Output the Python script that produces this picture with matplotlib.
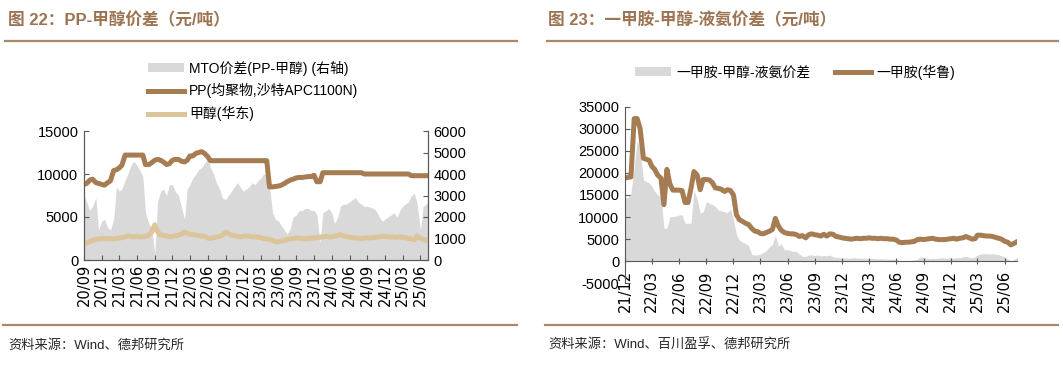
import numpy as np
import pandas as pd
import matplotlib
matplotlib.use('Agg')
import matplotlib.pyplot as plt
import matplotlib.dates as mdates
from matplotlib.lines import Line2D
from matplotlib.patches import Patch

plt.rcParams['font.family'] = ['Liberation Sans', 'Noto Sans CJK SC']
plt.rcParams['axes.unicode_minus'] = False

### data: left chart (semi-monthly, 1st and 15th, 2020/09 .. 2025/07)
left_dates = pd.date_range('2020-09-01', '2025-07-15', freq='SMS')

pp_price = [
    8800, 8900, 9300, 9400, 9000, 8900, 8800, 8700,
    9000, 9200, 10400, 10500, 10700, 11000, 12200, 12200, 12200, 12200, 12200, 12200,
    12200, 11100, 11100, 11300, 11600, 11700, 11600, 11400, 11100, 11200, 11600, 11700,
    11700, 11500, 11400, 11600, 12100, 12100, 12400, 12500, 12600, 12400, 12000, 11550,
    11550, 11550, 11550, 11550, 11550, 11550, 11550, 11550, 11550, 11550, 11550, 11550,
    11550, 11550, 11550, 11550, 11550, 11550, 11550, 8500, 8500, 8550, 8600, 8700,
    8900, 9100, 9300, 9400, 9550, 9600, 9600, 9650, 9700, 9700, 9850, 9100,
    9100, 10150, 10150, 10150, 10150, 10150, 10150, 10150, 10150, 10150, 10150, 10150,
    10150, 10150, 10150, 10000, 10000, 10000, 10000, 10000, 10000, 10000, 10000, 10000,
    10000, 10000, 10000, 10000, 10000, 10000, 10000, 9800, 9800, 9800, 9800, 9800,
    9800, 9800,
]

methanol_price = [
    1900, 2000, 2150, 2300, 2400, 2450, 2500, 2450,
    2500, 2500, 2450, 2500, 2550, 2600, 2700, 2800, 2750, 2700, 2750, 2700,
    2700, 2750, 2900, 3200, 4100, 3300, 2900, 2850, 2800, 2700, 2750, 2800,
    2900, 3000, 3250, 3100, 3000, 2950, 2900, 2850, 2800, 2750, 2550, 2500,
    2600, 2650, 2750, 2900, 3250, 3100, 2900, 2850, 2750, 2700, 2750, 2800,
    2750, 2700, 2700, 2650, 2600, 2500, 2450, 2400, 2300, 2150, 2100, 2200,
    2300, 2400, 2450, 2500, 2550, 2550, 2500, 2500, 2500, 2550, 2550, 2600,
    2650, 2700, 2750, 2700, 2700, 2750, 2850, 2950, 2800, 2700, 2650, 2600,
    2550, 2550, 2500, 2550, 2600, 2550, 2600, 2650, 2700, 2750, 2750, 2700,
    2700, 2650, 2650, 2700, 2650, 2600, 2500, 2450, 2350, 2800, 2500, 2400,
    2300, 2250,
]

mto_spread = [
    3000, 2700, 2300, 2500, 2900, 1400, 1800, 1900,
    1500, 1400, 1900, 3400, 3200, 3300, 3700, 4000, 4400, 4600, 4400, 4200,
    3900, 2200, 1700, 1500, 300, 2700, 3200, 3300, 3000, 3500, 3500, 3200,
    3000, 2500, 1900, 3300, 3500, 3800, 4000, 4200, 4300, 4500, 4700, 4300,
    4000, 3600, 3300, 2900, 2800, 3000, 3200, 3400, 3600, 3400, 3200, 3300,
    3400, 3600, 3500, 3700, 3800, 4000, 4000, 3400, 2200, 1900, 1800, 1600,
    1400, 1200, 1500, 2000, 2100, 2300, 2300, 2400, 2400, 2300, 2300, 2100,
    800, 2200, 2300, 2400, 2200, 1700, 2000, 2500, 2600, 2600, 2700, 2800,
    2900, 2700, 2600, 2500, 2500, 2450, 2400, 2300, 2000, 1800, 1900, 2000,
    2100, 2200, 2000, 2300, 2500, 2600, 2700, 3000, 3100, 2600, 1400, 2500,
    2600, 2800,
]

left_ticks = pd.date_range('2020-09-01', '2025-06-01', freq='3MS')

### data: right chart (1st, 11th, 21st of each month, 2021/12 .. 2025/07)
right_months = pd.date_range('2021-12-01', '2025-07-01', freq='MS')
right_dates = [m + pd.Timedelta(days=d) for m in right_months for d in (0, 10, 20)]

mma_price = [
    18800, 19000, 19100,
    32300, 32300, 30000, 23300, 23100, 22800, 21500, 20800, 19500,
    18800, 12800, 20800, 17500, 16100, 16100, 16100, 16000, 13300,
    13300, 16500, 20300, 19500, 16200, 18500, 18500, 18400, 17800,
    16600, 16500, 16300, 15800, 16200, 16000, 15000, 10500, 9400,
    9000, 8600, 8300, 7400, 6800, 6700, 6300, 6200, 6500,
    6800, 7200, 9700, 8000, 7000, 6500, 6300, 6200, 6200,
    6000, 5600, 5800, 5300, 6000, 6200, 6000, 5900, 5700,
    6100, 5700, 6200, 6100, 5600, 5500, 5300, 5200, 5100,
    5000, 5100, 5200, 5100, 5200, 5200, 5300, 5200, 5200,
    5100, 5200, 5100, 5100, 5000, 5000, 4800, 4300, 4200,
    4300, 4300, 4400, 4500, 4900, 5000, 4900, 5000, 5100,
    5200, 5000, 4900, 4900, 4900, 5000, 5100, 5200, 5000,
    5200, 5300, 5600, 5300, 5000, 5100, 5900, 5900, 5800,
    5700, 5700, 5600, 5400, 5200, 5000, 4500, 4300, 3700,
    4000, 4400, 4600,
]

mma_spread = [
    14300, 14500, 15400,
    21400, 27400, 25200, 18400, 18000, 17700, 17000, 15800, 15000,
    14600, 7500, 7500, 10100, 10100, 10200, 10500, 10500, 8600,
    8600, 8600, 16100, 14000, 10900, 11200, 13500, 13100, 12800,
    12400, 11600, 11400, 11200, 11000, 11800, 9400, 6000, 4800,
    4300, 4000, 3500, 1500, 1400, 1500, 1600, 2000, 2400,
    3300, 3800, 5900, 3400, 4000, 2600, 2600, 2400, 2200,
    2200, 1600, 1100, 1100, 1400, 1400, 1300, 1400, 1200,
    1300, 1200, 1400, 1000, 900, 800, 700, 750, 700,
    700, 800, 700, 700, 650, 700, 600, 700, 600,
    500, 600, 500, 500, 400, 500, 400, 200, 100,
    100, 100, 200, 300, 500, 1000, 800, 700, 600,
    700, 600, 700, 800, 700, 700, 800, 700, 800,
    800, 1000, 1100, 900, 800, 1000, 1400, 1600, 1700,
    1700, 1600, 1700, 1600, 1500, 1200, 1000, 500, 100,
    300, 800, 1000,
]

right_ticks = pd.date_range('2021-12-01', '2025-06-01', freq='3MS')

### style
W, H = 1063, 366
BROWN = '#a67c52'
TAN = '#dcc59a'
GREY = '#d9d9d9'
TITLE = '#9c7452'
RULE = '#a8896a'
SPINE = '#595959'


def fx(px):
    return px / W


def fy(py):
    return 1 - py / H


def style_xaxis(axis, ticks, start, end):
    """ Quarterly date ticks, labels rotated as in the reference """
    axis.set_xlim(pd.Timestamp(start), pd.Timestamp(end))
    axis.set_xticks(ticks)
    axis.xaxis.set_major_formatter(mdates.DateFormatter('%y/%m'))
    axis.tick_params(axis='x', labelrotation=90, labelsize=10.5)
    for lab in axis.get_xticklabels():
        lab.set_family('DejaVu Sans')


fig = plt.figure(figsize=(W / 100, H / 100), dpi=100)

### left chart
ax = fig.add_axes([fx(84), fy(260), fx(428) - fx(84), fy(131) - fy(260)])
ax2 = ax.twinx()
ax2.fill_between(left_dates, 0, mto_spread, color=GREY, lw=0)
ax.plot(left_dates, pp_price, color=BROWN, lw=3.6)
ax.plot(left_dates, methanol_price, color=TAN, lw=3.6)
ax.set_zorder(ax2.get_zorder() + 1)
ax.patch.set_visible(False)

ax.set_ylim(0, 15000)
ax.set_yticks([0, 5000, 10000, 15000])
ax2.set_ylim(0, 6000)
ax2.set_yticks([0, 1000, 2000, 3000, 4000, 5000, 6000])

for a in (ax, ax2):
    a.spines['top'].set_visible(False)
    for s in a.spines.values():
        s.set_color(SPINE)
        s.set_linewidth(0.8)
    a.tick_params(direction='in', length=3.5, width=0.8, color=SPINE, labelsize=10.5, pad=4)
ax.tick_params(axis='x', pad=3)
style_xaxis(ax, left_ticks, '2020-09-01', '2025-07-10')

### right chart
axr = fig.add_axes([fx(625), fy(283.3), fx(1017) - fx(625), fy(106.7) - fy(283.3)])
axr.fill_between(right_dates, 0, mma_spread, color=GREY, lw=0)
axr.plot(right_dates, mma_price, color=BROWN, lw=3.6)
axr.set_ylim(-5000, 35000)
axr.set_yticks(np.arange(-5000, 35001, 5000))
axr.spines['bottom'].set_position(('data', 0))
for side in ('top', 'right'):
    axr.spines[side].set_visible(False)
for s in axr.spines.values():
    s.set_color(SPINE)
    s.set_linewidth(0.8)
axr.tick_params(axis='y', direction='in', length=3.5, width=0.8, color=SPINE, labelsize=10.5, pad=4)
axr.tick_params(axis='x', direction='inout', length=5, width=0.8, color=SPINE, pad=4)
style_xaxis(axr, right_ticks, '2021-12-01', '2025-07-12')

### legends
fig.legend([Patch(facecolor=GREY, edgecolor='none'),
            Line2D([], [], color=BROWN, lw=3.6),
            Line2D([], [], color=TAN, lw=3.6)],
           ['MTO价差(PP-甲醇) (右轴)', 'PP(均聚物,沙特APC1100N)', '甲醇(华东)'],
           loc='center left', bbox_to_anchor=(fx(148), fy(91)), frameon=False,
           fontsize=10, handlelength=2.6, handleheight=0.6, handletextpad=0.35,
           labelspacing=0.55, borderpad=0, borderaxespad=0)

fig.legend([Patch(facecolor=GREY, edgecolor='none'),
            Line2D([], [], color=BROWN, lw=3.6)],
           ['一甲胺-甲醇-液氨价差', '一甲胺(华鲁)'],
           loc='center left', bbox_to_anchor=(fx(635), fy(72)), frameon=False, ncol=2,
           fontsize=10, handlelength=2.6, handleheight=0.6, handletextpad=0.35,
           columnspacing=1.8, borderpad=0, borderaxespad=0)

### titles, rules and sources
fig.text(fx(8), fy(20), '图 22：PP-甲醇价差（元/吨）', fontsize=12, fontweight='bold',
         color=TITLE, ha='left', va='center')
fig.text(fx(548), fy(20), '图 23：一甲胺-甲醇-液氨价差（元/吨）', fontsize=12, fontweight='bold',
         color=TITLE, ha='left', va='center')

for x0, x1 in ((5, 517), (547, 1058)):
    fig.add_artist(Line2D([fx(x0), fx(x1)], [fy(40.5), fy(40.5)], transform=fig.transFigure,
                          color=RULE, lw=1.6))
    fig.add_artist(Line2D([fx(x0 - 2), fx(x1)], [fy(325), fy(325)], transform=fig.transFigure,
                          color=RULE, lw=1.6))

fig.text(fx(8), fy(345), '资料来源：Wind、德邦研究所', fontsize=9.5, color='#262626',
         ha='left', va='center')
fig.text(fx(548), fy(345), '资料来源：Wind、百川盈孚、德邦研究所', fontsize=9.5, color='#262626',
         ha='left', va='center')

fig.savefig('out.png', dpi=100)
